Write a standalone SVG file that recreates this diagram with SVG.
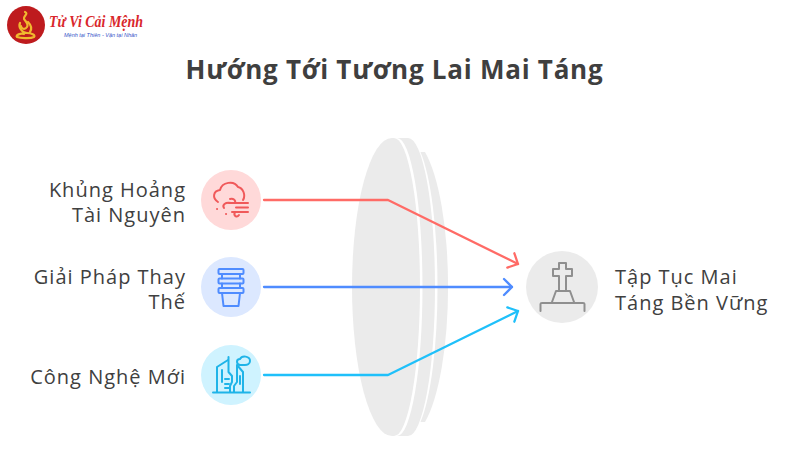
<svg xmlns="http://www.w3.org/2000/svg" width="800" height="453" viewBox="0 0 800 453">
<defs>
<style>
.t{font-family:"Open Sans","Noto Sans","DejaVu Sans",sans-serif;font-size:20px;fill:#404040;letter-spacing:1px}
.e{text-anchor:end}
.ttl{font-family:"Open Sans","Noto Sans",sans-serif;font-size:26px;font-weight:700;fill:#3f3f3f;text-anchor:middle;letter-spacing:.75px}
.c{fill:none;stroke-width:2.3;stroke-linecap:round;stroke-linejoin:round}
.i{fill:none;stroke-width:2;stroke-linecap:round;stroke-linejoin:round}
.l{fill:#EBEBEB}
</style>
<marker id="r" viewBox="0 0 20 20" refX="12" refY="10" markerWidth="20" markerHeight="20" markerUnits="userSpaceOnUse" orient="auto"><path d="M4 2L12 10L4 18" fill="none" stroke="#FF6B66" stroke-width="2.3" stroke-linecap="round" stroke-linejoin="round"/></marker>
<marker id="b" viewBox="0 0 20 20" refX="12" refY="10" markerWidth="20" markerHeight="20" markerUnits="userSpaceOnUse" orient="auto"><path d="M4 2L12 10L4 18" fill="none" stroke="#4F8CFF" stroke-width="2.3" stroke-linecap="round" stroke-linejoin="round"/></marker>
<marker id="y" viewBox="0 0 20 20" refX="12" refY="10" markerWidth="20" markerHeight="20" markerUnits="userSpaceOnUse" orient="auto"><path d="M4 2L12 10L4 18" fill="none" stroke="#1FC0FA" stroke-width="2.3" stroke-linecap="round" stroke-linejoin="round"/></marker>
</defs>
<rect width="800" height="453" fill="#fff"/>
<g id="logo">
<circle cx="26" cy="25" r="19" fill="#BE1B1E"/>
<g fill="none" stroke="#F0B92E" stroke-width="2.2" stroke-linecap="round" stroke-linejoin="round">
<path d="M25 12C29 14 23 16 24 19C26 22 29 24 27 27C25 30 21 29 21 26"/>
<path d="M20 23C18 27 22 33 27 33C31 33 36 35 34 37C30 39 20 38 17 37C15 35 21 33 24 34"/>
<path d="M28 22C31 25 32 29 30 32"/>
</g>
<text x="49" y="27" font-family="'Liberation Serif',serif" font-size="17" font-weight="700" font-style="italic" fill="#D9262B" textLength="94" lengthAdjust="spacingAndGlyphs">Tử Vi Cải Mệnh</text>
<text x="64" y="37" font-family="'Liberation Sans',sans-serif" font-size="5.500" font-style="italic" fill="#3553c8">Mệnh tại Thiên - Vận tại Nhân</text>
</g>
<text class="ttl" x="394.500" y="79">Hướng Tới Tương Lai Mai Táng</text>
<g id="lens">
<path class="l" d="M392 138A40 149 0 0 0 392 436L394 436A26 149 0 0 0 394 138Z"/>
<path class="l" d="M397 138H408A27 149 0 0 1 408 436H397A25.500 149 0 0 0 397 138Z"/>
<path class="l" d="M420.500 152A29.500 149 0 0 1 420.500 422L425 422A40 149 0 0 0 425 152Z"/>
</g>
<g id="connectors">
<path class="c" stroke="#FF6B66" d="M264 200H388L518 264" marker-end="url(#r)"/>
<path class="c" stroke="#4F8CFF" d="M264 287H512" marker-end="url(#b)"/>
<path class="c" stroke="#1FC0FA" d="M264 375H388L518 311" marker-end="url(#y)"/>
</g>
<g id="n1">
<circle cx="231" cy="200" r="30" fill="#FFD9D9"/>
<g class="i" stroke="#F0595A">
<path d="M218 202C212 198 213 191 220 190C222 182 234 180 238 187C243 188 246 195 243 200"/>
<path d="M229 203H248M236 207.500H248M232 212H248"/>
<path d="M231 203C225 202 222 205 224 208M230 199C233 198 236 200 235 203M235 212C233 216 237 218 239 215"/>
<path d="M217 209h.1M226 214h.1"/>
</g>
<text class="t e" x="186" y="197">Khủng Hoảng</text>
<text class="t e" x="186" y="222">Tài Nguyên</text>
</g>
<g id="n2">
<circle cx="231" cy="287" r="30" fill="#DCE8FF"/>
<g class="i" stroke="#4F8CFF">
<rect x="218.500" y="269" width="25" height="5" rx="1"/>
<rect x="218.500" y="278.500" width="25" height="5" rx="1"/>
<rect x="218.500" y="288" width="25" height="5" rx="1"/>
<path d="M222 274V278.500M240 274V278.500M222 283.500V288M240 283.500V288"/>
<path d="M222 293L223.500 306H238.500L240 293"/>
</g>
<text class="t e" x="186" y="284">Giải Pháp Thay</text>
<text class="t e" x="186" y="309">Thế</text>
</g>
<g id="n3">
<circle cx="231" cy="375" r="30" fill="#CFF3FF"/>
<g class="i" stroke="#1FB4E8">
<path d="M213 392.500H250"/>
<path d="M217 392V367L228 360"/>
<path d="M228.500 357V372L232 376V382L230 386V392"/>
<path d="M234 392V386L237 382V365L243 372V392"/>
<path d="M222 370V382M240 376V384M225 379H229M225 384H229M225 388H229"/>
<path d="M240 365C236 364 236 359 240 359C242 355 250 356 250 361C250 364 247 365 245 365Z"/>
</g>
<text class="t e" x="186" y="384">Công Nghệ Mới</text>
</g>
<g id="n4">
<circle cx="562" cy="287" r="36" fill="#EBEBEB"/>
<g class="i" stroke="#8f8f8f">
<path d="M540.500 311V304Q540.500 303 542 303H583Q584.500 303 584.500 304V311"/>
<path d="M552 302L556 291H570L574 302"/>
<path d="M559 291V276H553V269H559V263H566V269H572V276H566V291"/>
</g>
<text class="t" x="615" y="284">Tập Tục Mai</text>
<text class="t" x="615" y="310">Táng Bền Vững</text>
</g>
</svg>
